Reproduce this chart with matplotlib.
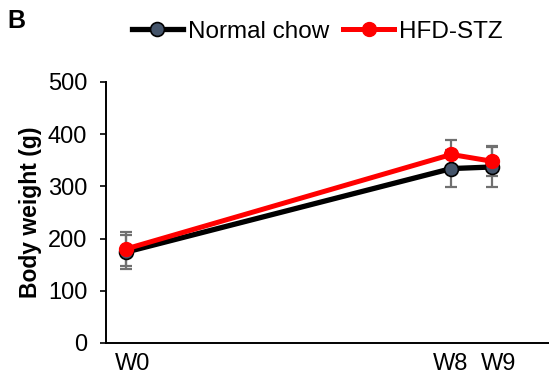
import matplotlib
matplotlib.use("Agg")
import matplotlib.pyplot as plt
import matplotlib.transforms as mtransforms

plt.rcParams['font.family'] = ['Liberation Sans', 'DejaVu Sans']

weeks = [0, 8, 9]
tick_labels = ["W0", "W8", "W9"]
normal_mean = [174, 334, 337]
normal_err = [32, 36, 38]
hfd_mean = [180, 361, 348]
hfd_err = [33, 28, 29]

fig = plt.figure(figsize=(5.49, 3.79), dpi=100)
ax = fig.add_axes([0.193, 0.095, 0.807, 0.689])

err_color = "#707070"
ax.errorbar(weeks, normal_mean, yerr=normal_err, fmt="none", ecolor=err_color,
            elinewidth=1.6, capsize=4.5, capthick=1.6, zorder=2)
ax.errorbar(weeks, hfd_mean, yerr=hfd_err, fmt="none", ecolor=err_color,
            elinewidth=1.6, capsize=4.5, capthick=1.6, zorder=2)
ax.plot(weeks, normal_mean, color="black", lw=3.8, marker="o", markersize=10,
        markerfacecolor="#44546A", markeredgecolor="black", markeredgewidth=1.2,
        label="Normal chow", zorder=3)
ax.plot(weeks, hfd_mean, color="#FF0000", lw=3.6, marker="o", markersize=10,
        markerfacecolor="#FF0000", markeredgecolor="#FF0000",
        label="HFD-STZ", zorder=4)

ax.set_xlim(-0.49, 10.4)
ax.set_ylim(0, 500)
ax.set_yticks([0, 100, 200, 300, 400, 500])
ax.set_xticks(weeks)
ax.set_xticklabels(tick_labels)
ax.tick_params(axis="x", length=0, labelsize=17, pad=7)
ax.tick_params(axis="y", length=4.5, width=1.2, labelsize=17, direction="out", pad=9)
# small horizontal nudges of the x labels (points)
label_nudges = [5, -0.7, 5]
for lbl, dx in zip(ax.get_xticklabels(), label_nudges):
    lbl.set_transform(lbl.get_transform() +
                      mtransforms.ScaledTranslation(dx / 72, 0, fig.dpi_scale_trans))
for s in ["top", "right"]:
    ax.spines[s].set_visible(False)
for s in ["left", "bottom"]:
    ax.spines[s].set_linewidth(1.4)
ax.set_ylabel("Body weight (g)", fontsize=16.5, fontweight="bold", labelpad=4)

fig.legend(loc="center", bbox_to_anchor=(0.578, 0.916), ncol=2, frameon=False,
           fontsize=17.5, handlelength=2.1, columnspacing=0.6, handletextpad=0.2,
           borderpad=0, borderaxespad=0)
fig.text(0.013, 0.975, "B", fontsize=18, fontweight="bold", va="top", ha="left")

fig.savefig("out.png", dpi=100)
